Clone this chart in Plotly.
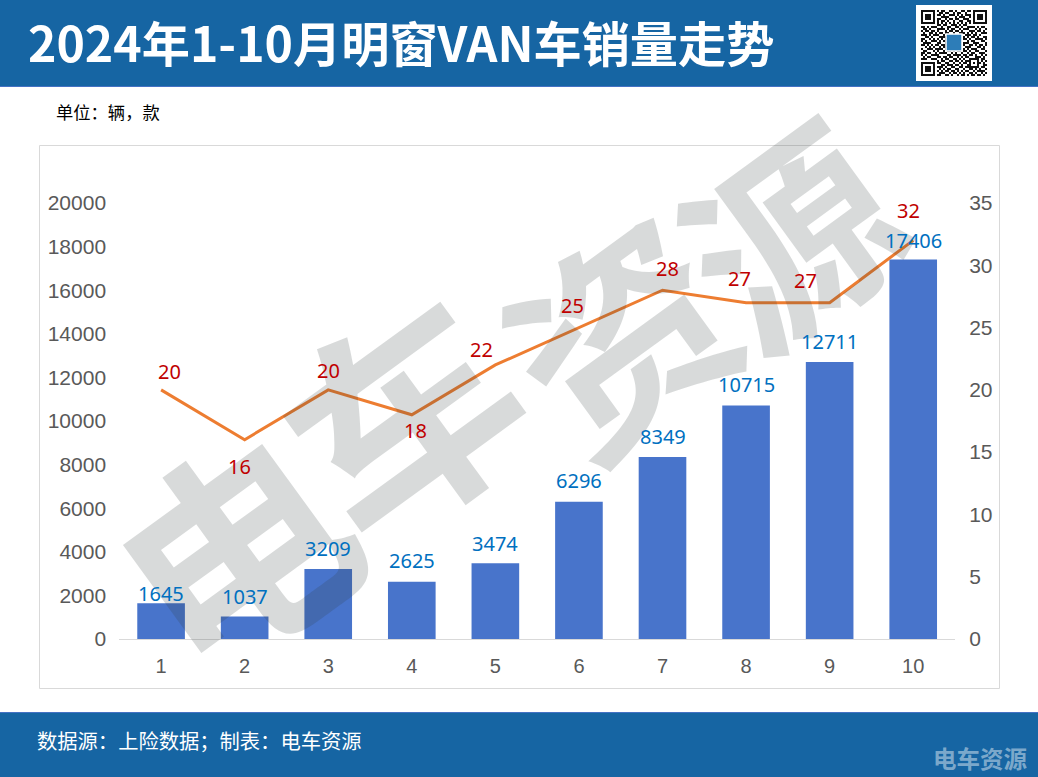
import plotly.graph_objects as go

W, H = 1038, 777
months = ["1", "2", "3", "4", "5", "6", "7", "8", "9", "10"]
sales = [1645, 1037, 3209, 2625, 3474, 6296, 8349, 10715, 12711, 17406]
models = [20, 16, 20, 18, 22, 25, 28, 27, 27, 32]
left_ticks = list(range(0, 20001, 2000))
right_ticks = list(range(0, 36, 5))
sales_shift = [10, 20, 21, 21, 20, 21, 20, 21, 20, 19]
model_shift = [(8, 18), (-5, -27), (0, 19), (4, -16), (-14, 15), (-6, 22), (5, 22), (-7, 24), (-24, 22), (-5, 30)]
title = "2024年1-10月明窗VAN车销量走势"
unit = "单位：辆，款"
source = "数据源：上险数据；制表：电车资源"
mark = "电车资源"
mark_pos = [(229, 543), (397, 409), (615, 328), (785, 228)]
mark_size = [225, 225, 215, 205]
qr_rows = [
    "111111101011001101001101101111111",
    "100000100110110010110010001000001",
    "101110101101001110101011101011101",
    "101110100011110001011100101011101",
    "101110101100101101100111001011101",
    "100000101011010010011001101000001",
    "111111101010101010101010101111111",
    "000000001101100111010110000000000",
    "110101110010011001101001111010110",
    "011010001111010110010111000101001",
    "101101101000101101101000111011010",
    "010011010110110010011101010100111",
    "111010111001001111000011101101000",
    "001101000111100000000101011010011",
    "110010101010100000000110100111101",
    "101001110101100000000001011000110",
    "011110001100100000000111001110001",
    "110101011011100000000100110101101",
    "001010100101100000000011100011010",
    "100111011110100000000101011100110",
    "011000101001011010110110100110001",
    "110110010111100101001001011001110",
    "101001111000011011110110110100101",
    "010110001101101100101011000111010",
    "111001110010110011010100111110110",
    "000000001011001101101011100010101",
    "111111101100110010010110101011010",
    "100000100011011101101001100010011",
    "101110101110100110011011111110110",
    "101110100101011001100100110101001",
    "101110101010110110101011001011110",
    "100000100111001011010100110100101",
    "111111101100110100101101011011010",
]
qr_matrix = [[int(c) for c in r] for r in qr_rows]

HEADER = "#1665A3"
EDGE = "#4472C4"
BAR = "#4874CB"
CJK = "Noto Sans CJK SC"
NUM = "Noto Sans, Noto Sans CJK SC"
ARIAL = "Liberation Sans"

fig = go.Figure()
fig.add_bar(x=months, y=sales, marker=dict(color=BAR, line_width=0), width=0.57,
            xaxis="x", yaxis="y", showlegend=False, hoverinfo="skip")
fig.add_scatter(x=months, y=models, mode="lines", line=dict(color="#ED7D31", width=3),
                xaxis="x", yaxis="y2", showlegend=False, hoverinfo="skip")
fig.add_heatmap(z=qr_matrix, xaxis="x3", yaxis="y3", showscale=False, hoverinfo="skip",
                colorscale=[[0, "#FFFFFF"], [1, "#111111"]], zmin=0, zmax=1)


def px(x):
    return x / W


def py(y):
    return 1 - y / H


shapes = [
    dict(type="rect", xref="paper", yref="paper", x0=0, x1=1, y0=py(86), y1=1, fillcolor=HEADER, line_width=0, layer="below"),
    dict(type="rect", xref="paper", yref="paper", x0=0, x1=1, y0=py(87), y1=py(86), fillcolor=EDGE, line_width=0, layer="below"),
    dict(type="rect", xref="paper", yref="paper", x0=0, x1=1, y0=0, y1=py(712), fillcolor=HEADER, line_width=0, layer="below"),
    dict(type="rect", xref="paper", yref="paper", x0=0, x1=1, y0=py(713), y1=py(712), fillcolor=EDGE, line_width=0, layer="below"),
    dict(type="rect", xref="paper", yref="paper", x0=px(39.5), x1=px(999.5), y0=py(688.5), y1=py(145.5),
         fillcolor="rgba(0,0,0,0)", line=dict(color="#D9D9D9", width=1), layer="below"),
    dict(type="rect", xref="paper", yref="paper", x0=px(916), x1=px(992), y0=py(81), y1=py(5), fillcolor="#FFFFFF", line_width=0, layer="below"),
    dict(type="rect", xref="paper", yref="paper", x0=px(946), x1=px(962), y0=py(51), y1=py(34),
         fillcolor="#2D7DB8", line=dict(color="#FFFFFF", width=1.5), layer="above"),
]

ann = []
for ch, (cx, cy), sz in zip(mark, mark_pos, mark_size):
    ann.append(dict(text=ch, xref="paper", yref="paper", x=px(cx), y=py(cy), showarrow=False,
                    xanchor="center", yanchor="middle", textangle=-36,
                    font=dict(family=CJK, size=sz, color="rgba(50,60,60,0.19)", weight=700)))
for i, (s, dy) in enumerate(zip(sales, sales_shift)):
    ann.append(dict(text=str(s), x=i, y=s, xref="x", yref="y", showarrow=False, yshift=dy,
                    xanchor="center", yanchor="middle", font=dict(family=NUM, size=20, color="#0070C0")))
for i, (v, (dx, dy)) in enumerate(zip(models, model_shift)):
    ann.append(dict(text=str(v), x=i, y=v, xref="x", yref="y2", showarrow=False, xshift=dx, yshift=dy,
                    xanchor="center", yanchor="middle", font=dict(family=NUM, size=20, color="#C00000")))
ann += [
    dict(text=title, xref="paper", yref="paper", x=px(25.5), y=py(41), showarrow=False, xanchor="left", yanchor="middle",
         font=dict(family=CJK, size=48.2, color="#FFFFFF", weight=700)),
    dict(text=unit, xref="paper", yref="paper", x=px(54), y=py(112), showarrow=False, xanchor="left", yanchor="middle",
         font=dict(family=CJK, size=17.3, color="#000000")),
    dict(text=source, xref="paper", yref="paper", x=px(35), y=py(740), showarrow=False, xanchor="left", yanchor="middle",
         font=dict(family=CJK, size=20.3, color="#FFFFFF")),
    dict(text=mark, xref="paper", yref="paper", x=px(980), y=py(758), showarrow=False, xanchor="center", yanchor="middle",
         font=dict(family=CJK, size=23.5, color="rgba(255,255,255,0.45)", weight=700)),
]

fig.update_layout(
    width=W, height=H, margin=dict(l=0, r=0, t=0, b=0),
    paper_bgcolor="#FFFFFF", plot_bgcolor="rgba(0,0,0,0)",
    shapes=shapes, annotations=ann, bargap=0.43,
    xaxis=dict(domain=[px(119.3), px(955)], type="category", categoryorder="array", categoryarray=months,
               range=[-0.5, 9.5], showgrid=False, zeroline=False, automargin=False,
               showline=True, linecolor="#D9D9D9", linewidth=1, ticks="outside", ticklen=9,
               tickcolor="rgba(0,0,0,0)", tickfont=dict(family=ARIAL, size=20, color="#595959"), anchor="y"),
    yaxis=dict(domain=[py(639), py(203)], range=[0, 20000], tickvals=left_ticks, tickformat="d", showgrid=False,
               zeroline=False, automargin=False, ticks="outside", ticklen=8, tickcolor="rgba(0,0,0,0)",
               tickfont=dict(family=ARIAL, size=21, color="#595959"), anchor="x"),
    yaxis2=dict(domain=[py(639), py(203)], range=[0, 35], tickvals=right_ticks, overlaying="y", side="right",
                showgrid=False, zeroline=False, automargin=False, ticks="outside", ticklen=9, tickcolor="rgba(0,0,0,0)",
                tickfont=dict(family=ARIAL, size=21, color="#595959"), anchor="x"),
    xaxis3=dict(domain=[px(921), px(987)], visible=False, anchor="y3", range=[-0.5, 32.5], automargin=False),
    yaxis3=dict(domain=[py(76), py(10)], visible=False, anchor="x3", range=[32.5, -0.5], automargin=False),
)

fig.write_html("out.html", config={"displayModeBar": False},
               post_script="document.body.style.margin='0';document.documentElement.style.overflow='hidden';")
